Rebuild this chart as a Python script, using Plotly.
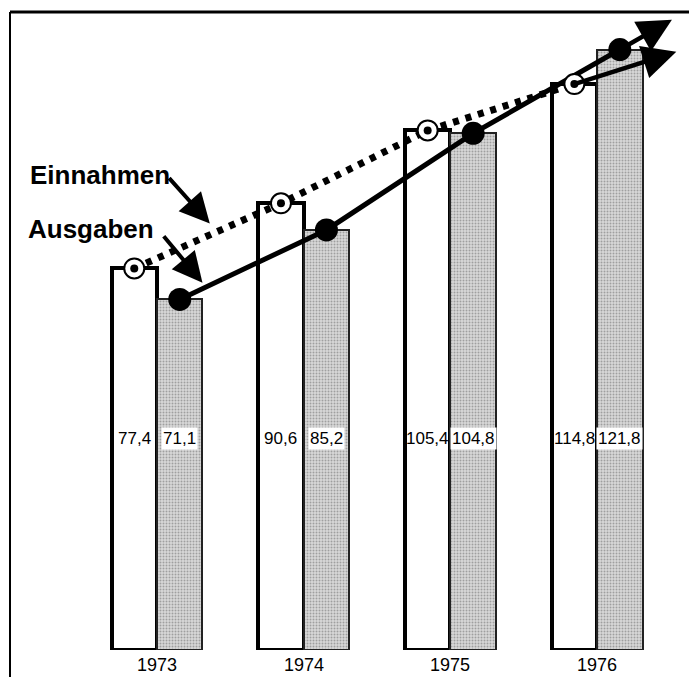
import plotly.graph_objects as go

# Haushalt: Einnahmen und Ausgaben (Mrd.), 1973-1976
years = ["1973", "1974", "1975", "1976"]
einnahmen = [77.4, 90.6, 105.4, 114.8]
ausgaben = [71.1, 85.2, 104.8, 121.8]

W, H = 689, 677
BOTTOM = 27          # room for the year labels
BAR_W = 0.31         # width of one bar in axis units
Y_MAX = (H - BOTTOM) / 4.93
X_RANGE = [-157 / 146.7, (W - 157) / 146.7]

xs = list(range(len(years)))
x_ein = [x - BAR_W / 2 for x in xs]
x_aus = [x + BAR_W / 2 for x in xs]

FONT = "Liberation Sans, Arial, Helvetica, sans-serif"


def fmt(v):
    return f"{v:.1f}".replace(".", ",")


fig = go.Figure()

# Einnahmen bars: white with heavy black outline
fig.add_trace(go.Bar(
    x=xs, y=einnahmen, width=BAR_W, offset=-BAR_W,
    marker=dict(color="white", line=dict(color="black", width=4)),
    hoverinfo="skip", showlegend=False,
))
# Ausgaben bars: grey stipple
fig.add_trace(go.Bar(
    x=xs, y=ausgaben, width=BAR_W, offset=0,
    marker=dict(
        color="#cfcfcf",
        line=dict(color="#222", width=2),
        pattern=dict(shape=".", fgcolor="#666", bgcolor="#d9d9d9", size=3, solidity=0.35),
    ),
    hoverinfo="skip", showlegend=False,
))

# Einnahmen trend: dotted line through the bar tops
fig.add_trace(go.Scatter(
    x=x_ein, y=einnahmen, mode="lines",
    line=dict(color="black", width=7, dash="6px,7px"),
    hoverinfo="skip", showlegend=False,
))
# Ausgaben trend: solid line
fig.add_trace(go.Scatter(
    x=x_aus, y=ausgaben, mode="lines+markers",
    line=dict(color="black", width=5),
    marker=dict(symbol="circle", size=23, color="black"),
    hoverinfo="skip", showlegend=False,
))
# Einnahmen markers: ring with centre dot
fig.add_trace(go.Scatter(
    x=x_ein, y=einnahmen, mode="markers",
    marker=dict(symbol="circle", size=20, color="white", line=dict(color="black", width=2)),
    hoverinfo="skip", showlegend=False,
))
fig.add_trace(go.Scatter(
    x=x_ein, y=einnahmen, mode="markers",
    marker=dict(symbol="circle", size=8, color="black"),
    hoverinfo="skip", showlegend=False,
))

annotations = []

# value labels inside the bars
for xe, xa, e, a in zip(x_ein, x_aus, einnahmen, ausgaben):
    annotations.append(dict(
        x=xe, y=43, xref="x", yref="y", text=fmt(e), showarrow=False,
        font=dict(family=FONT, size=17, color="black"),
    ))
    annotations.append(dict(
        x=xa, y=43, xref="x", yref="y", text=fmt(a), showarrow=False,
        bgcolor="white", borderpad=1,
        font=dict(family=FONT, size=17, color="black"),
    ))

# year labels under each pair of bars
for x, yr in zip(xs, years):
    annotations.append(dict(
        x=x, y=0, xref="x", yref="y", yanchor="top", yshift=-3,
        text=yr, showarrow=False,
        font=dict(family=FONT, size=18, color="black"),
    ))


# arrows continuing each trend beyond the last year
def extend(xv, yv, x_end):
    slope = (yv[-1] - yv[-2]) / (xv[-1] - xv[-2])
    return x_end, yv[-1] + slope * (x_end - xv[-1])


for xv, yv, x_end in ((x_aus, ausgaben, 3.51), (x_ein, einnahmen, 3.54)):
    tx, ty = extend(xv, yv, x_end)
    annotations.append(dict(
        x=tx, y=ty, xref="x", yref="y",
        ax=xv[-1], ay=yv[-1], axref="x", ayref="y",
        showarrow=True, arrowhead=2, arrowsize=1.5, arrowwidth=4.5,
        arrowcolor="black", text="",
    ))

# series names with pointer arrows
label_font = dict(family=FONT, size=26, color="black")
annotations.append(dict(
    x=28 / W, y=(H - BOTTOM - 158) / (H - BOTTOM), xref="paper", yref="paper",
    xanchor="left", text="<b>Einnahmen</b>", showarrow=False, font=label_font,
))
annotations.append(dict(
    x=26 / W, y=(H - BOTTOM - 212) / (H - BOTTOM), xref="paper", yref="paper",
    xanchor="left", text="<b>Ausgaben</b>", showarrow=False, font=label_font,
))
annotations.append(dict(
    x=0.36, y=86.5, xref="x", yref="y", ax=-42, ay=-47,
    showarrow=True, arrowhead=2, arrowsize=1.5, arrowwidth=4, arrowcolor="black", text="",
))
annotations.append(dict(
    x=0.31, y=74.5, xref="x", yref="y", ax=-40, ay=-48,
    showarrow=True, arrowhead=2, arrowsize=1.5, arrowwidth=4, arrowcolor="black", text="",
))

# frame lines at the top and on the left
ph = H - BOTTOM
shapes = [
    dict(type="line", xref="paper", yref="paper", x0=10 / W, x1=1, y0=(ph - 12) / ph, y1=(ph - 12) / ph,
         line=dict(color="black", width=3)),
    dict(type="line", xref="paper", yref="paper", x0=10 / W, x1=10 / W, y0=-BOTTOM / ph, y1=(ph - 12) / ph,
         line=dict(color="black", width=2)),
]

fig.update_layout(
    width=W, height=H,
    margin=dict(l=0, r=0, t=0, b=BOTTOM, autoexpand=False),
    paper_bgcolor="white", plot_bgcolor="white",
    barmode="overlay", bargap=0,
    annotations=annotations, shapes=shapes,
    xaxis=dict(
        range=X_RANGE, showticklabels=False,
        showgrid=False, zeroline=False, showline=False, ticks="",
        fixedrange=True,
    ),
    yaxis=dict(range=[0, Y_MAX], visible=False, fixedrange=True),
)

fig.write_html("out.html")
